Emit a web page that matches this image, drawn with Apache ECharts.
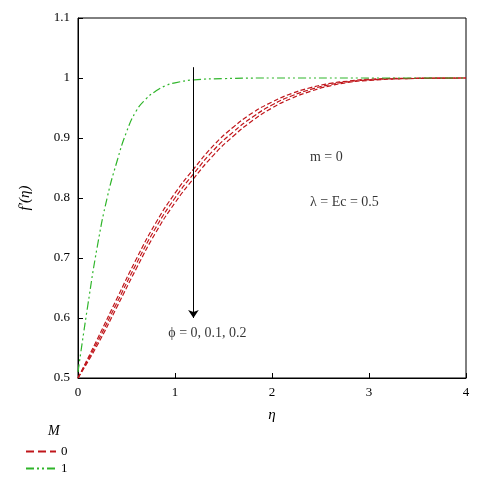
<!DOCTYPE html><html><head><meta charset="utf-8"><script src="https://cdn.jsdelivr.net/npm/echarts@6/dist/echarts.min.js"></script></head><body style="margin:0"><div id="c" style="width:489px;height:500px"></div><script>
const eta=[0,0.2,0.4,0.6,0.8,1.0,1.2,1.4,1.6,1.8,2.0,2.2,2.4,2.6,2.8,3.0,3.4,4.0];
const red0=[0.5,0.565,0.632,0.698,0.758,0.808,0.850,0.888,0.918,0.942,0.960,0.974,0.984,0.991,0.995,0.998,0.9995,1];
const red1=[0.5,0.560,0.625,0.690,0.750,0.800,0.842,0.880,0.910,0.935,0.955,0.970,0.981,0.989,0.994,0.997,0.999,1];
const red2=[0.5,0.555,0.618,0.682,0.742,0.792,0.834,0.872,0.903,0.929,0.950,0.966,0.978,0.987,0.993,0.996,0.999,1];
const etaG=[0,0.1,0.2,0.3,0.4,0.5,0.6,0.7,0.8,0.9,1.0,1.2,1.5,2,3,4];
const green=[0.51,0.62,0.72,0.80,0.86,0.91,0.945,0.965,0.978,0.987,0.992,0.997,0.999,1,1,1];
const z=(a,b)=>a.map((v,i)=>[v,b[i]]);
const c=echarts.init(document.getElementById('c'));
const f='Liberation Serif';
const ax={axisLine:{lineStyle:{color:'#000'}},axisTick:{inside:true,lineStyle:{color:'#000'}},axisLabel:{color:'#000',fontFamily:f,fontSize:13},splitLine:{show:false}};
const rs=(d,n)=>({type:'line',name:n,data:d,symbol:'none',smooth:true,lineStyle:{color:'#c0161b',type:'dashed',width:1.2},itemStyle:{color:'#c0161b'}});
c.setOption({animation:false,
grid:{left:78,right:23,top:18,bottom:122},
xAxis:{type:'value',min:0,max:4,interval:1,name:'η',nameLocation:'middle',nameGap:30,nameTextStyle:{fontFamily:f,fontStyle:'italic',fontSize:15,color:'#000'},...ax,axisLine:{onZero:false,lineStyle:{color:'#000'}}},
yAxis:{type:'value',min:0.5,max:1.1,interval:0.1,name:"f′(η)",nameLocation:'middle',nameGap:45,nameTextStyle:{fontFamily:f,fontStyle:'italic',fontSize:15,color:'#000'},...ax,axisLabel:{...ax.axisLabel,formatter:v=>+v.toFixed(1)+''}},
legend:{orient:'vertical',left:20,top:440,itemWidth:30,itemGap:4,itemStyle:{opacity:0},textStyle:{fontFamily:f,fontSize:13,color:'#000'},data:['0','1']},
graphic:[{type:'text',left:48,top:424,style:{text:'M',font:'italic 14px Liberation Serif',fill:'#000'}},
{type:'rect',shape:{x:78,y:18,width:388,height:360},style:{fill:'none',stroke:'#000'}}],
series:[rs(z(eta,red0),'0'),rs(z(eta,red1),'0'),rs(z(eta,red2),'0'),
{type:'line',name:'1',data:z(etaG,green),symbol:'none',smooth:true,lineStyle:{color:'#2fb52a',type:[8,3,2,3,2,3],width:1.2},itemStyle:{color:'#2fb52a'}},
{type:'line',data:[],markLine:{silent:true,symbol:['none','arrow'],symbolSize:8,label:{show:false},lineStyle:{color:'#000',type:'solid',width:1},data:[[{coord:[1.19,1.018]},{coord:[1.19,0.6]}]]}},
{type:'scatter',symbolSize:0,data:[[0.88,0.575,'ϕ = 0, 0.1, 0.2'],[2.34,0.868,'m = 0'],[2.34,0.793,'λ = Ec = 0.5']],label:{show:true,position:'right',formatter:p=>p.data[2],fontFamily:f,fontSize:14,color:'#000'}}]});
</script></body></html>
